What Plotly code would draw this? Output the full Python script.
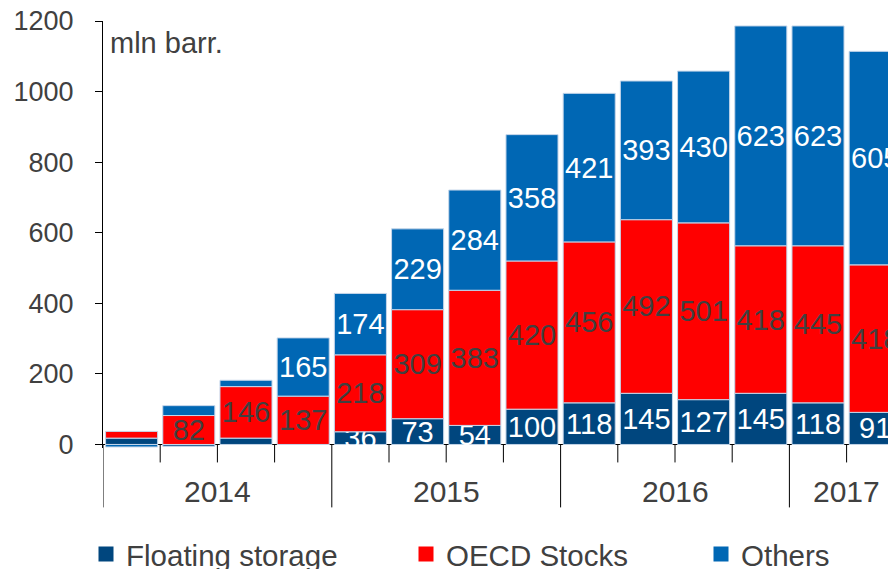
import plotly.graph_objects as go

# ---------------- data ----------------
quarters = ["2014Q1", "2014Q2", "2014Q3", "2014Q4",
            "2015Q1", "2015Q2", "2015Q3", "2015Q4",
            "2016Q1", "2016Q2", "2016Q3", "2016Q4",
            "2017Q1", "2017Q2"]
floating = [18, -5, 18, 0, 36, 73, 54, 100, 118, 145, 127, 145, 118, 91]
oecd = [19, 82, 146, 137, 218, 309, 383, 420, 456, 492, 501, 418, 445, 418]
others = [-7, 28, 18, 165, 174, 229, 284, 358, 421, 393, 430, 623, 623, 605]
floating_show = [False] * 4 + [True] * 10
oecd_show = [False] + [True] * 13
others_show = [False] * 3 + [True] * 11
years = ["2014", "2015", "2016", "2017"]
year_counts = [4, 4, 4, 2]
y_ticks = [0, 200, 400, 600, 800, 1000, 1200]

# ---------------- layout constants (screen px; page has 8px body margin) ----------------
OFF = 8
W, H = 896 - OFF, 569 - OFF
ML, MR, MT = 103 - OFF, 0, 21 - OFF
PLOT_BOTTOM = 448.5 - OFF
MB = H - PLOT_BOTTOM
PLOT_H = H - MT - MB
PLOT_W = W - ML - MR
Y_MIN, Y_MAX = -10, 1200.01
PERIOD_PX = 57.2
X_MIN = -0.5
X_MAX = X_MIN + PLOT_W / PERIOD_PX

FONT = "Liberation Sans, Arial, sans-serif"
GREY = "#404040"
C_FLOAT = "#00467E"
C_OECD = "#FF0000"
C_OTHER = "#0067B4"

x = list(range(len(quarters)))


def py_paper(screen_py):
    return (PLOT_BOTTOM - (screen_py - OFF)) / PLOT_H


def px_paper(screen_px):
    return (screen_px - OFF - ML) / PLOT_W


def labels(vals, show):
    return [str(v) if s else "" for v, s in zip(vals, show)]


fig = go.Figure()
series = [
    ("Floating storage", floating, floating_show, C_FLOAT, "white", "legend"),
    ("OECD Stocks", oecd, oecd_show, C_OECD, GREY, "legend2"),
    ("Others", others, others_show, C_OTHER, "white", "legend3"),
]
for name, vals, show, col, tcol, lg in series:
    fig.add_trace(go.Bar(
        x=x, y=vals, name=name,
        marker=dict(color=col, line=dict(color="#C5D6EA", width=1)),
        text=labels(vals, show),
        textposition="inside", insidetextanchor="middle",
        textangle=0, constraintext="none",
        insidetextfont=dict(family=FONT, size=29, color=tcol),
        hoverinfo="skip", showlegend=False, cliponaxis=True,
    ))
# legend entries (square swatches)
for name, vals, show, col, tcol, lg in series:
    fig.add_trace(go.Scatter(
        x=[None], y=[None], mode="markers", name=name,
        marker=dict(symbol="square", size=15, color=col),
        hoverinfo="skip", legend=lg, showlegend=True,
    ))

# x-axis ticks (category boundaries) and year labels
shapes = []
annotations = []
y_zero = (0 - Y_MIN) / (Y_MAX - Y_MIN)
short_len = 18 / PLOT_H
long_len = 63 / PLOT_H
year_bounds = [X_MIN]
acc = X_MIN
for c in year_counts:
    acc += c
    year_bounds.append(acc)
start = X_MIN
for yr, c in zip(years, year_counts):
    annotations.append(dict(
        x=start + c / 2, xref="x", y=py_paper(492), yref="paper",
        text=yr, showarrow=False, xanchor="center", yanchor="middle",
        font=dict(family=FONT, size=30, color=GREY)))
    start += c
for i in range(len(quarters) + 1):
    b = i - 0.5
    ln = long_len if b in year_bounds else short_len
    shapes.append(dict(type="line", xref="x", yref="paper",
                       x0=b, x1=b, y0=y_zero, y1=y_zero - ln,
                       line=dict(color="black", width=1)))

annotations.append(dict(
    x=px_paper(108), xref="paper", y=py_paper(43), yref="paper",
    text="mln barr.", showarrow=False, xanchor="left", yanchor="middle",
    font=dict(family=FONT, size=29, color=GREY)))

leg_common = dict(orientation="h", yanchor="middle", xanchor="left",
                  y=py_paper(555), bgcolor="rgba(0,0,0,0)",
                  font=dict(family=FONT, size=29.5, color=GREY))

fig.update_layout(
    width=W, height=H,
    margin=dict(l=ML, r=MR, t=MT, b=MB, pad=0, autoexpand=False),
    paper_bgcolor="white", plot_bgcolor="white",
    barmode="relative", bargap=0.09,
    showlegend=True,
    legend=dict(x=px_paper(86), **leg_common),
    legend2=dict(x=px_paper(406), **leg_common),
    legend3=dict(x=px_paper(701), **leg_common),
    xaxis=dict(range=[X_MIN, X_MAX], showticklabels=False, ticks="",
               showline=False, showgrid=False, zeroline=False, fixedrange=True),
    yaxis=dict(range=[Y_MIN, Y_MAX], tickvals=y_ticks, ticks="outside",
               ticklen=7, tickcolor="black", showline=True, linecolor="black",
               linewidth=1, showgrid=False, zeroline=True, zerolinecolor="black",
               zerolinewidth=1, ticklabelstandoff=16, ticklabeloverflow="allow",
               tickfont=dict(family=FONT, size=27, color=GREY)),
    shapes=shapes, annotations=annotations,
)

fig.write_html("out.html")
